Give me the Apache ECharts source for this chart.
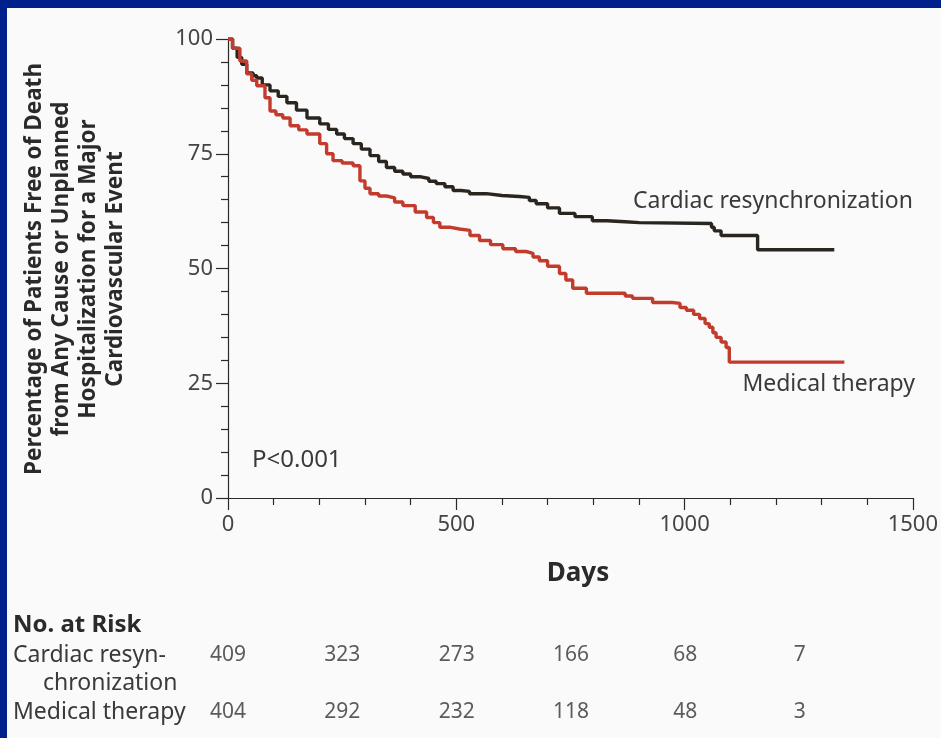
<!DOCTYPE html>
<html>
<head>
<meta charset="utf-8">
<script src="https://cdn.jsdelivr.net/npm/echarts@6/dist/echarts.min.js"></script>
<style>
html,body{margin:0;padding:0;background:#00208c;}
#frame{position:absolute;left:0;top:0;width:941px;height:738px;background:#00208c;}
#c{position:absolute;left:7px;top:8px;width:934px;height:730px;}
</style>
</head>
<body>
<div id="frame"><div id="c"></div></div>
<script>
// ---- data ----
const crtDays = [0,10,20,30,41,55,63,75,92,110,129,150,173,201,220,238,255,274,292,311,330,347,365,383,400,420,440,456,475,493,510,529,566,600,638,660,675,700,726,760,798,830,870,901,1059,1065,1080,1160,1328];
const crtSurv = [100,98,96,94.5,92.6,92.0,91.5,90,88.7,87.5,86.1,84.5,82.8,81.5,80.3,79.3,78.3,77.2,76,74.6,73.3,72,71.2,70.6,70,69.6,69,68.5,67.8,67,66.8,66.3,65.9,65.7,65.5,64.8,64.1,63.2,62,61.3,60.4,60.2,60.0,59.8,59.0,58.2,57.2,54.1,54.1];
const medDays = [0,10,26,41,52,63,81,92,105,120,136,155,173,201,216,230,250,274,289,300,311,330,347,365,383,410,435,450,464,485,507,530,551,575,602,630,653,668,682,700,726,740,755,785,857,870,886,930,973,990,1004,1020,1033,1045,1054,1062,1069,1080,1091,1098,1350];
const medSurv = [100,98,95.2,92.4,91,89.8,87.2,84.3,83.5,82.8,81.1,80.2,79.3,77.2,75,73.5,73,72.4,69.1,67.5,66.3,65.8,65.4,64.5,63.7,62.3,61.1,60,59,58.6,58.3,57.2,56.1,55.2,54.3,53.7,53.3,52.5,51.7,50.5,48.9,47.5,45.7,44.6,44.6,44,43.5,42.6,42.4,41.5,40.9,40,39.1,38,37.2,36,35,34,32.8,29.6,29.6];

const riskDays = [0,250,500,750,1000,1250];
const crtRisk = [409,323,273,166,68,7];
const medRisk = [404,292,232,118,48,3];

const xTicks = [0,500,1000,1500];
const yTicks = [0,25,50,75,100];

const crtName = 'Cardiac resynchronization';
const medName = 'Medical therapy';
const yTitle = 'Percentage of Patients Free of Death\nfrom Any Cause or Unplanned\nHospitalization for a Major\nCardiovascular Event';

// ---- build ----
const pairs = (xs, ys) => xs.map((x, i) => [x, ys[i]]);
const riskPts = [];
riskDays.forEach((d, i) => { riskPts.push([d, 0, crtRisk[i]]); riskPts.push([d, 1, medRisk[i]]); });

const FONT = "'Noto Sans', 'DejaVu Sans', sans-serif";
const txt = '#3a3a3a';
const axisCol = '#2a2a2a';

const chart = echarts.init(document.getElementById('c'), null, {renderer: 'canvas'});
chart.setOption({
  backgroundColor: '#fafafa',
  animation: false,
  textStyle: {fontFamily: FONT},
  grid: [
    {left: 221, top: 31, width: 686, height: 459},
    {left: 221, top: 647, width: 686, height: 57}
  ],
  xAxis: [
    {
      gridIndex: 0, type: 'value', min: xTicks[0], max: xTicks[xTicks.length - 1], interval: 500,
      axisLine: {show: true, onZero: false, lineStyle: {color: axisCol, width: 1.2}},
      axisTick: {show: true, inside: false, length: 12, lineStyle: {color: axisCol, width: 1.2}},
      minorTick: {show: true, splitNumber: 5, length: 7, lineStyle: {color: axisCol, width: 1.2}},
      splitLine: {show: false},
      axisLabel: {show: true, margin: 16, fontSize: 22, color: '#444', fontFamily: FONT, formatter: v => String(v)}
    },
    {
      gridIndex: 1, type: 'value', min: xTicks[0], max: xTicks[xTicks.length - 1], show: false
    }
  ],
  yAxis: [
    {
      gridIndex: 0, type: 'value', min: yTicks[0], max: yTicks[yTicks.length - 1], interval: 25,
      axisLine: {show: true, onZero: false, lineStyle: {color: axisCol, width: 1.2}},
      axisTick: {show: true, inside: false, length: 12, lineStyle: {color: axisCol, width: 1.2}},
      minorTick: {show: true, splitNumber: 5, length: 7, lineStyle: {color: axisCol, width: 1.2}},
      splitLine: {show: false},
      axisLabel: {show: true, margin: 15, fontSize: 22, color: '#444', fontFamily: FONT, formatter: v => String(v)}
    },
    {
      gridIndex: 1, type: 'value', min: 0, max: 1, inverse: true, show: false
    }
  ],
  series: [
    {
      name: crtName, type: 'line', step: 'end', xAxisIndex: 0, yAxisIndex: 0,
      data: pairs(crtDays, crtSurv), showSymbol: false, symbol: 'none',
      lineStyle: {color: '#2b2520', width: 3.4}, z: 3
    },
    {
      name: medName, type: 'line', step: 'end', xAxisIndex: 0, yAxisIndex: 0,
      data: pairs(medDays, medSurv), showSymbol: false, symbol: 'none',
      lineStyle: {color: '#c23b2c', width: 3.4}, z: 4
    },
    {
      name: 'No. at Risk', type: 'scatter', xAxisIndex: 1, yAxisIndex: 1,
      data: riskPts, symbolSize: 1, itemStyle: {color: 'rgba(0,0,0,0)'},
      label: {
        show: true, position: 'inside', fontSize: 21, color: '#333',
        fontFamily: FONT,
        formatter: p => String(p.value[2])
      },
      silent: true
    }
  ],
  graphic: [
    {type: 'text', left: 626, top: 182, style: {text: crtName, font: "23px " + FONT, fill: txt}},
    {type: 'text', right: 26, top: 365, style: {text: medName, font: "23px " + FONT, fill: txt}},
    {type: 'text', left: 245, top: 440, style: {text: 'P<0.001', font: "24px " + FONT, fill: txt}},
    {type: 'text', x: 571, y: 566, style: {text: 'Days', font: "bold 26px " + FONT, fill: '#2a2a2a', textAlign: 'center', textVerticalAlign: 'middle'}},
    {type: 'text', x: 68, y: 261, rotation: Math.PI / 2,
      style: {text: yTitle, font: "bold 22.5px " + FONT, fill: '#2a2a2a', textAlign: 'center', textVerticalAlign: 'middle', lineHeight: 27}},
    {type: 'text', x: 6, y: 617, style: {text: 'No. at Risk', font: "bold 24px " + FONT, fill: '#2a2a2a', textVerticalAlign: 'middle'}},
    {type: 'text', x: 6, y: 647, style: {text: 'Cardiac resyn-', font: "23px " + FONT, fill: txt, textVerticalAlign: 'middle'}},
    {type: 'text', x: 36, y: 675, style: {text: 'chronization', font: "23px " + FONT, fill: txt, textVerticalAlign: 'middle'}},
    {type: 'text', x: 6, y: 704, style: {text: medName, font: "23px " + FONT, fill: txt, textVerticalAlign: 'middle'}}
  ]
});
</script>
</body>
</html>
